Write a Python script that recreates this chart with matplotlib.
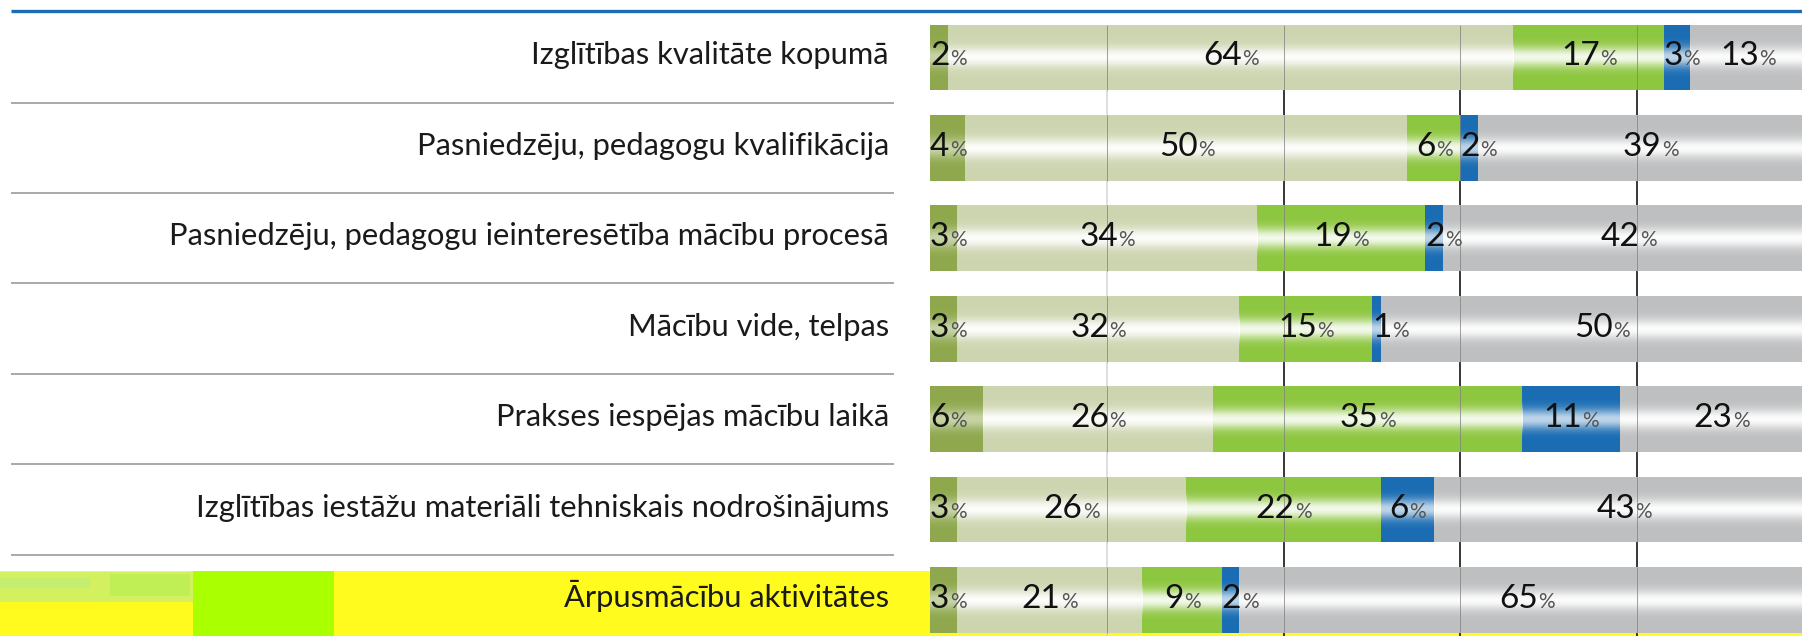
import numpy as np
import matplotlib
matplotlib.use("Agg")
import matplotlib.pyplot as plt
from matplotlib.patches import Rectangle
from matplotlib.lines import Line2D

# ---------------- data ----------------
categories = [
    "Izglītības kvalitāte kopumā",
    "Pasniedzēju, pedagogu kvalifikācija",
    "Pasniedzēju, pedagogu ieinteresētība mācību procesā",
    "Mācību vide, telpas",
    "Prakses iespējas mācību laikā",
    "Izglītības iestāžu materiāli tehniskais nodrošinājums",
    "Ārpusmācību aktivitātes",
]
series1 = [2, 4, 3, 3, 6, 3, 3]
series2 = [64, 50, 34, 32, 26, 26, 21]
series3 = [17, 6, 19, 15, 35, 22, 9]
series4 = [3, 2, 2, 1, 11, 6, 2]
series5 = [13, 39, 42, 50, 23, 43, 65]
grid_ticks = [20, 40, 60, 80]

series = [series1, series2, series3, series4, series5]
colors = ['#8fa84e', '#cdd5b0', '#8dc63f', '#1a6cb3', '#bebfc1']
highlight = [0.5, 0.95, 0.9, 0.72, 0.95]

plt.rcParams['font.family'] = ['Lato', 'DejaVu Sans']
num_family = ['Liberation Sans Narrow', 'Lato', 'DejaVu Sans']

W, H, DPI = 1802, 636, 100
fig = plt.figure(figsize=(W / DPI, H / DPI), dpi=DPI)

x0_px = 930
px_per_pct = 8.84
row0_px = 57.5
pitch_px = 90.4
bar_h = 0.73

ax = fig.add_axes([x0_px / W, 0, 1 - x0_px / W, 1])
ax.set_facecolor('none')
xmax = (W - x0_px) / px_per_pct
ytop = -row0_px / pitch_px
ybot = (H - row0_px) / pitch_px


def fig_rect(x, y, w, h, color, z):
    r = Rectangle((x / W, 1 - (y + h) / H), w / W, h / H, transform=fig.transFigure,
                  facecolor=color, edgecolor='none', zorder=z)
    fig.add_artist(r)


def fig_hline(x1, x2, y, color, lw, z):
    l = Line2D([x1 / W, x2 / W], [1 - y / H, 1 - y / H], transform=fig.transFigure,
               color=color, linewidth=lw, zorder=z, solid_capstyle='butt')
    fig.add_artist(l)


# yellow highlight band (behind everything)
fig_rect(0, 571, W, H - 571, '#fffb1e', -5)
fig_rect(193, 571, 141, H - 571, '#aaff00', -4)
fig_rect(0, 572, 193, 30, '#d2f060', -4)
fig_rect(0, 578, 90, 10, '#c4ee70', -3)
fig_rect(110, 574, 80, 22, '#bfee55', -3)

# top blue rule and separators
fig_hline(11, W, 10.5, '#1a6cb3', 2.4, 3)
for i in range(len(categories) - 1):
    fig_hline(11, 894, row0_px + pitch_px * (i + 0.5), '#a8a8a8', 1.4, 3)

y = np.arange(len(categories))

# gridlines behind bars
ax.vlines(grid_ticks, -bar_h / 2, ybot, colors=['#d6d6d6', '#000000', '#000000', '#000000'],
          linewidth=1.1, zorder=1)

# stacked bars with glossy highlight
t = np.linspace(0, 1, 256)
left = np.zeros(len(categories))
containers = []
for j, vals in enumerate(series):
    vals = np.array(vals, dtype=float)
    bc = ax.barh(y, vals, left=left, height=bar_h, color=colors[j], linewidth=0, zorder=2)
    containers.append((bc, vals.copy(), left.copy()))
    prof = highlight[j] * np.exp(-((t - 0.5) / 0.15) ** 2)
    rgba = np.ones((len(t), 1, 4))
    rgba[:, 0, 3] = prof
    for p in bc.patches:
        px, py, pw, ph = p.get_x(), p.get_y(), p.get_width(), p.get_height()
        ax.imshow(rgba, extent=(px, px + pw, py + ph, py), aspect='auto',
                  interpolation='bilinear', zorder=3)
    left = left + vals

# faint gridlines seen through bars
for yi in y:
    ax.vlines(grid_ticks, yi - bar_h / 2, yi + bar_h / 2, colors='#808080',
              linewidth=0.7, alpha=0.75, zorder=3.5)

ax.set_xlim(0, xmax)
ax.set_ylim(ybot, ytop)
ax.axis('off')

# category labels
for yi, cat in zip(y, categories):
    ax.annotate(cat, xy=(0, yi), xytext=(-41, -7), textcoords='offset pixels',
                ha='right', va='baseline', fontsize=22.2, color='#1a1a1a',
                annotation_clip=False)

# value labels
fig.canvas.draw()
renderer = fig.canvas.get_renderer()
num_fs, pct_fs = 24, 15
for j, (bc, vals, lefts) in enumerate(containers):
    for yi, v, l in zip(y, vals, lefts):
        left_align = (j == 0) or (v <= 3)
        anchor = l if left_align else l + v / 2
        tn = ax.annotate(f"{int(v)}", xy=(anchor, yi), xytext=(0, -8),
                         textcoords='offset pixels', ha='left', va='baseline',
                         fontsize=num_fs, family=num_family, color='#111111', zorder=6,
                         annotation_clip=False)
        tp = ax.annotate("%", xy=(anchor, yi), xytext=(0, -8),
                         textcoords='offset pixels', ha='left', va='baseline',
                         fontsize=pct_fs, family=num_family, color='#555555', zorder=6,
                         annotation_clip=False)
        wn = tn.get_window_extent(renderer).width
        wp = tp.get_window_extent(renderer).width
        start = 0 if left_align else -(wn + wp) / 2
        tn.xyann = (start, -8)
        tp.xyann = (start + wn + 0.5, -8)

fig.savefig("out.png", dpi=DPI)
